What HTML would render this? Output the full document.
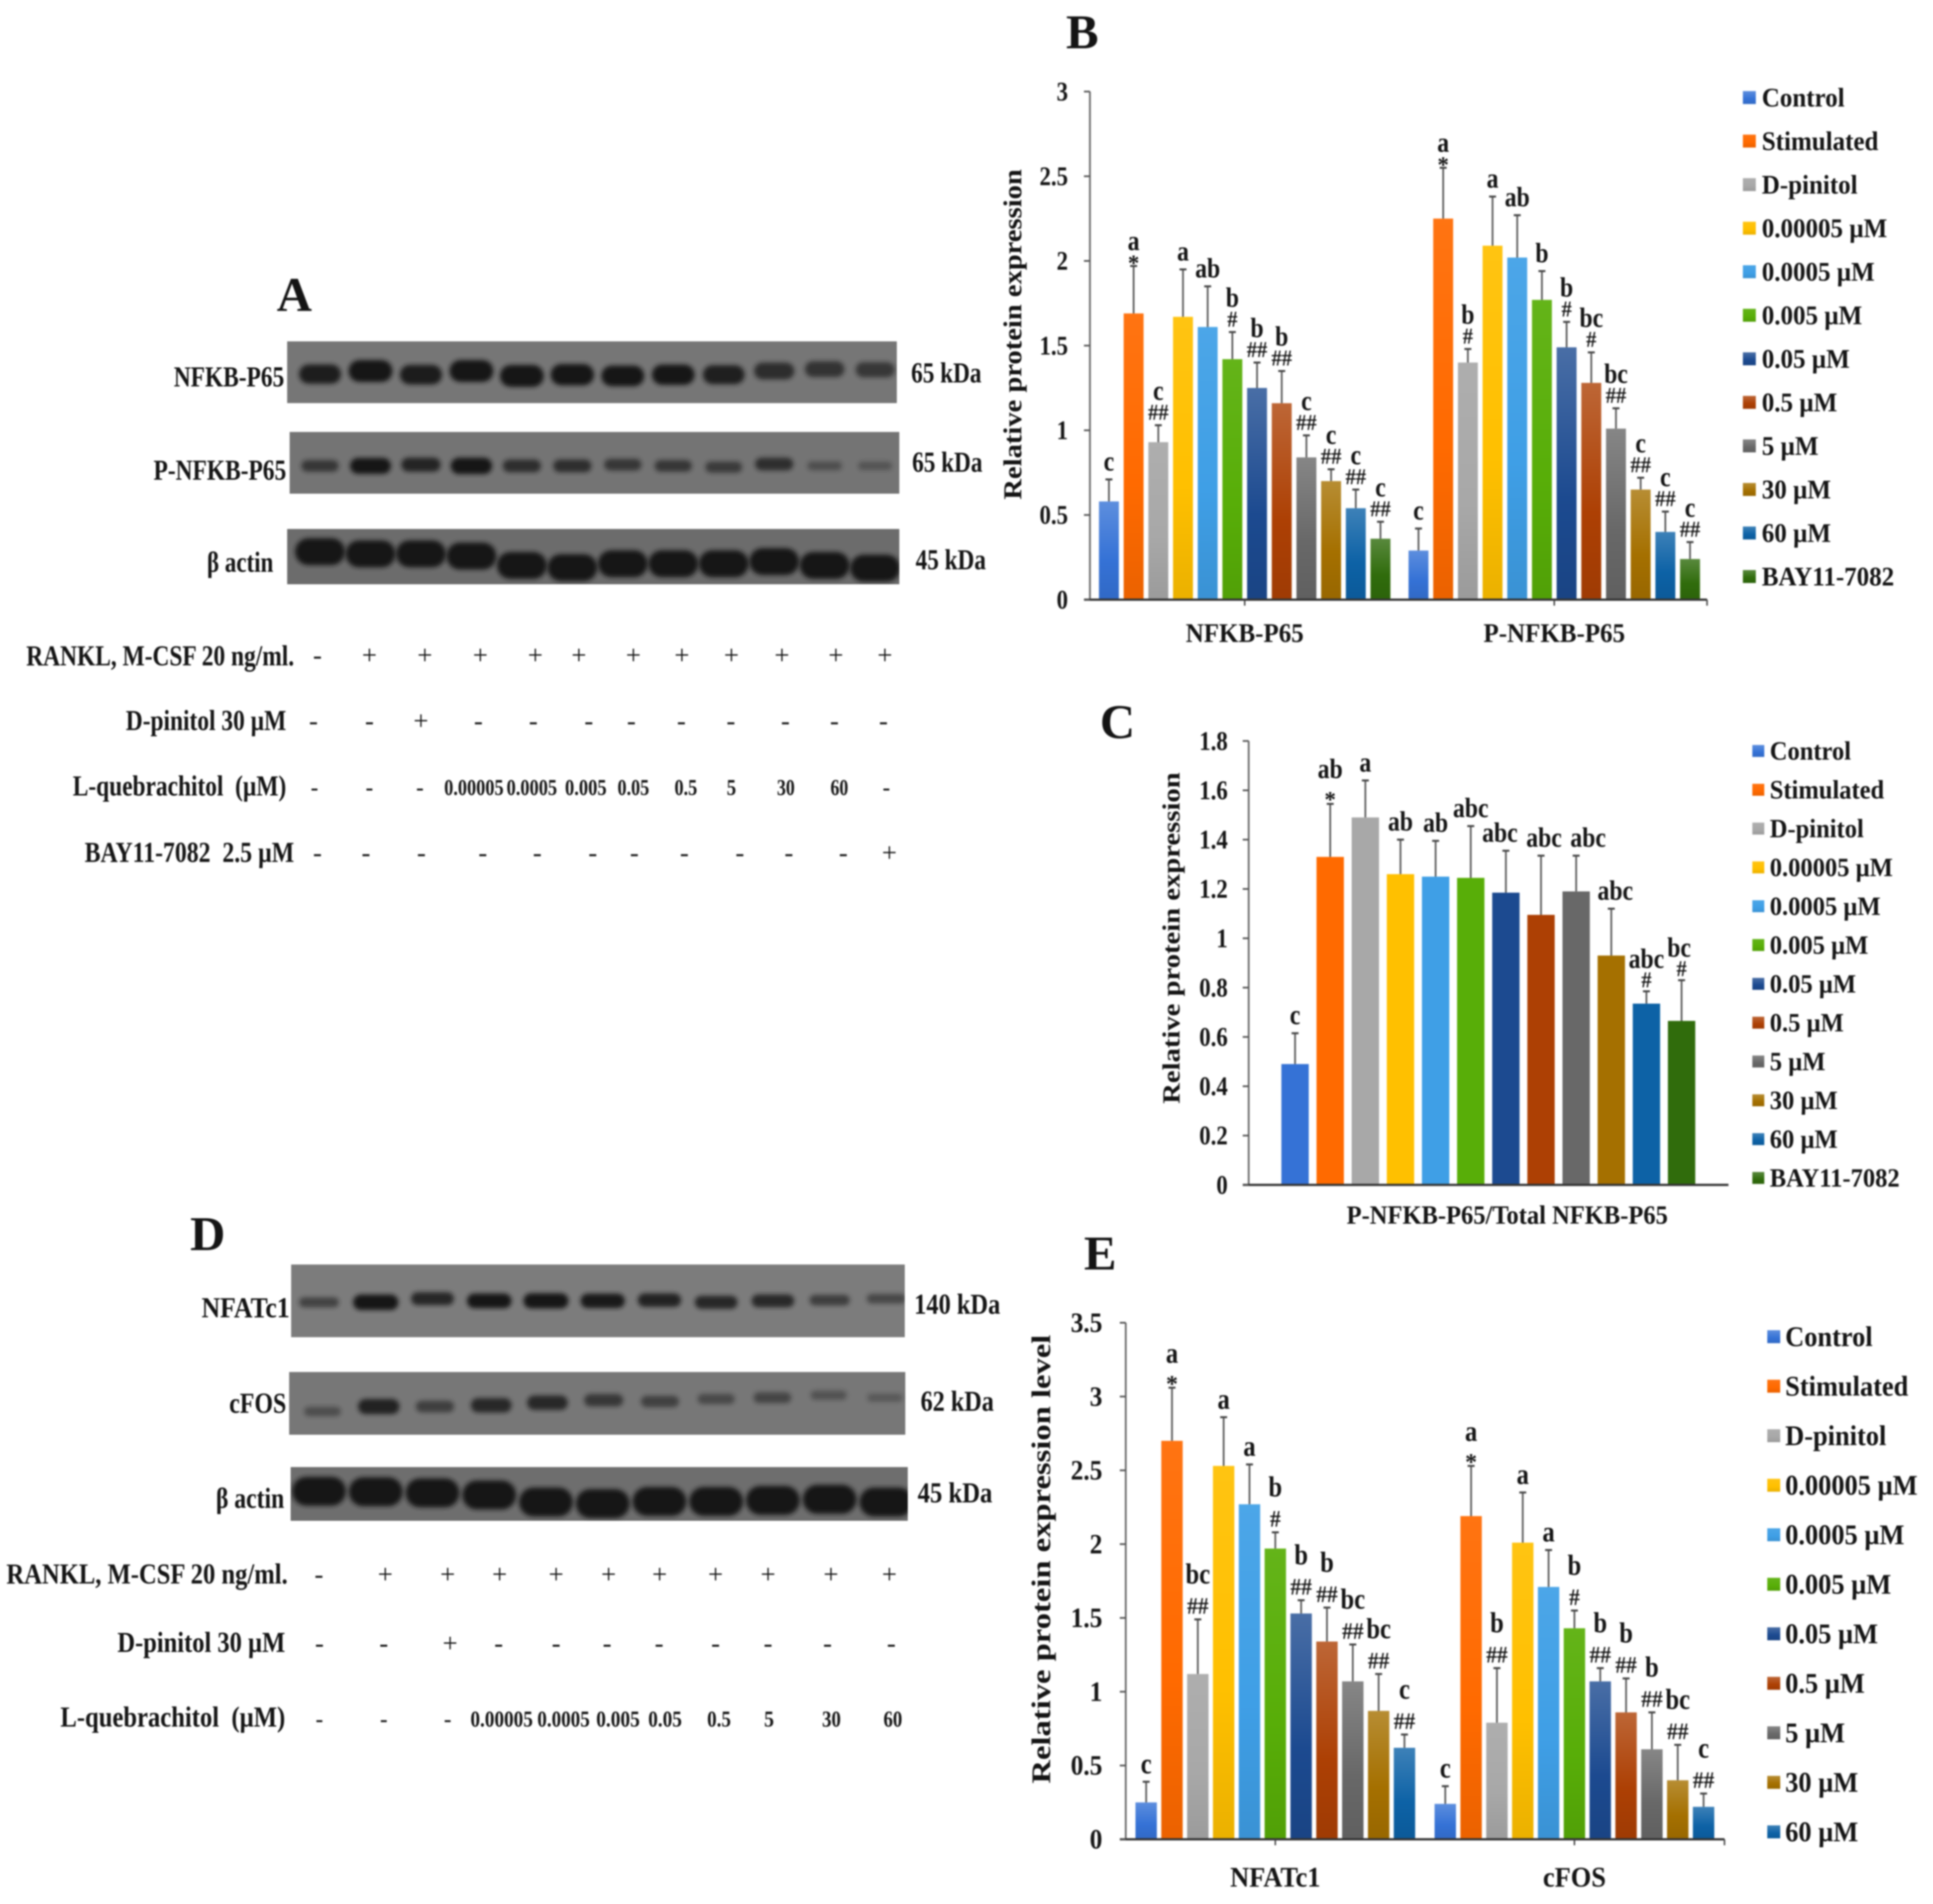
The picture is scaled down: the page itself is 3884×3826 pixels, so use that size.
<!DOCTYPE html>
<html lang="en">
<head>
<meta charset="utf-8">
<title>Western blots and relative protein expression charts</title>
<style>
html,body{margin:0;padding:0;background:#fff;width:3884px;height:3826px;overflow:hidden}
#fig{display:block;filter:blur(1.5px)}
text{font-family:"Liberation Serif","DejaVu Serif",serif;font-weight:700;fill:#141414}
.thin{font-weight:400}
</style>
</head>
<body>
<svg id="fig" xmlns="http://www.w3.org/2000/svg" width="3884" height="3826" viewBox="0 0 3884 3826">
<defs>
<filter id="bandBlur" x="-30%" y="-80%" width="160%" height="260%"><feGaussianBlur stdDeviation="4.5"/></filter>
</defs>
<rect width="3884" height="3826" fill="#fff"/>

<text x="556" y="625" font-size="98">A</text>
<text x="2142" y="97" font-size="98">B</text>
<text x="2210" y="1483" font-size="98">C</text>
<text x="382" y="2512" font-size="98">D</text>
<text x="2178" y="2551" font-size="98">E</text>

<g id="blots"></g>

<g transform="translate(0 2.6) scale(0.995)">
<g font-size="58">
<text x="351" y="778" textLength="223" lengthAdjust="spacingAndGlyphs">NFKB-P65</text>
<text x="310" y="966" textLength="268" lengthAdjust="spacingAndGlyphs">P-NFKB-P65</text>
<text x="418" y="1152" textLength="134" lengthAdjust="spacingAndGlyphs">β actin</text>
<text x="1840" y="770" textLength="142" lengthAdjust="spacingAndGlyphs">65 kDa</text>
<text x="1842" y="950" textLength="142" lengthAdjust="spacingAndGlyphs">65 kDa</text>
<text x="1849" y="1147" textLength="142" lengthAdjust="spacingAndGlyphs">45 kDa</text>
<text x="53" y="1341" textLength="541" lengthAdjust="spacingAndGlyphs">RANKL, M-CSF 20 ng/ml.</text>
<text x="254" y="1472" textLength="324" lengthAdjust="spacingAndGlyphs">D-pinitol 30 µM</text>
<text x="147" y="1604" textLength="431" lengthAdjust="spacingAndGlyphs" xml:space="preserve">L-quebrachitol  (µM)</text>
<text x="171" y="1738" textLength="423" lengthAdjust="spacingAndGlyphs" xml:space="preserve">BAY11-7082  2.5 µM</text>
</g>
<g text-anchor="middle">
<text class="thin" font-size="54" y="1338" x="641 746 858 970 1081 1169 1279 1377 1477 1579 1688 1787">-+++++++++++</text>
<text class="thin" font-size="54" y="1471" x="633 746 850 966 1077 1189 1275 1376 1476 1586 1685 1784">--+---------</text>
<g font-size="46">
<text x="635" y="1603">-</text>
<text x="746" y="1603">-</text>
<text x="848" y="1603">-</text>
<text x="957" y="1603" textLength="120" lengthAdjust="spacingAndGlyphs">0.00005</text>
<text x="1074" y="1603" textLength="102" lengthAdjust="spacingAndGlyphs">0.0005</text>
<text x="1183" y="1603" textLength="84" lengthAdjust="spacingAndGlyphs">0.005</text>
<text x="1279" y="1603" textLength="64" lengthAdjust="spacingAndGlyphs">0.05</text>
<text x="1385" y="1603" textLength="46" lengthAdjust="spacingAndGlyphs">0.5</text>
<text x="1477" y="1603" textLength="19" lengthAdjust="spacingAndGlyphs">5</text>
<text x="1587" y="1603" textLength="36" lengthAdjust="spacingAndGlyphs">30</text>
<text x="1695" y="1603" textLength="36" lengthAdjust="spacingAndGlyphs">60</text>
<text x="1790" y="1603">-</text>
</g>
<text class="thin" font-size="54" y="1737" x="641 739 851 975 1085 1197 1281 1382 1494 1593 1703 1796">-----------+</text>
</g>
</g>

<g transform="translate(0 12.1) scale(0.995)">
<g font-size="58">
<text x="407" y="2648" textLength="178" lengthAdjust="spacingAndGlyphs">NFATc1</text>
<text x="463" y="2841" textLength="115" lengthAdjust="spacingAndGlyphs">cFOS</text>
<text x="436" y="3033" textLength="138" lengthAdjust="spacingAndGlyphs">β actin</text>
<text x="1846" y="2641" textLength="174" lengthAdjust="spacingAndGlyphs">140 kDa</text>
<text x="1859" y="2837" textLength="148" lengthAdjust="spacingAndGlyphs">62 kDa</text>
<text x="1853" y="3022" textLength="151" lengthAdjust="spacingAndGlyphs">45 kDa</text>
<text x="13" y="3186" textLength="568" lengthAdjust="spacingAndGlyphs">RANKL, M-CSF 20 ng/ml.</text>
<text x="237" y="3324" textLength="339" lengthAdjust="spacingAndGlyphs">D-pinitol 30 µM</text>
<text x="122" y="3475" textLength="454" lengthAdjust="spacingAndGlyphs" xml:space="preserve">L-quebrachitol  (µM)</text>
</g>
<g text-anchor="middle">
<text class="thin" font-size="54" y="3185" x="644 778 904 1009 1123 1229 1332 1445 1551 1678 1796">-++++++++++</text>
<text class="thin" font-size="54" y="3324" x="645 775 909 1007 1123 1226 1331 1445 1551 1671 1800">--+--------</text>
<g font-size="46">
<text x="645" y="3475">-</text>
<text x="775" y="3475">-</text>
<text x="904" y="3475">-</text>
<text x="1013" y="3475" textLength="126" lengthAdjust="spacingAndGlyphs">0.00005</text>
<text x="1138" y="3475" textLength="106" lengthAdjust="spacingAndGlyphs">0.0005</text>
<text x="1248" y="3475" textLength="88" lengthAdjust="spacingAndGlyphs">0.005</text>
<text x="1343" y="3475" textLength="68" lengthAdjust="spacingAndGlyphs">0.05</text>
<text x="1452" y="3475" textLength="48" lengthAdjust="spacingAndGlyphs">0.5</text>
<text x="1553" y="3475" textLength="20" lengthAdjust="spacingAndGlyphs">5</text>
<text x="1679" y="3475" textLength="38" lengthAdjust="spacingAndGlyphs">30</text>
<text x="1803" y="3475" textLength="38" lengthAdjust="spacingAndGlyphs">60</text>
</g>
</g>
</g>

<g id="charts"></g>
</svg>

<script>
// ---- shared series ----
const seriesNames = ['Control','Stimulated','D-pinitol','0.00005 µM','0.0005 µM','0.005 µM','0.05 µM','0.5 µM','5 µM','30 µM','60 µM','BAY11-7082'];
const seriesColors = ['#3572d6','#ff6a00','#a8a8a8','#ffc000','#3f9fe6','#58ae08','#1c4a90','#ad4004','#686868','#a57000','#0d62a6','#306c0c'];

// ---- chart B ----
const bCategories = ['NFKB-P65','P-NFKB-P65'];
const bTicks = [0,0.5,1,1.5,2,2.5,3];
const bValuesNfkb = [0.58,1.69,0.93,1.67,1.61,1.42,1.25,1.16,0.84,0.70,0.54,0.36];
const bErrorsNfkb = [0.13,0.28,0.10,0.28,0.24,0.16,0.15,0.19,0.13,0.07,0.11,0.10];
const bLettersNfkb = ['c','a','c','a','ab','b','b','b','c','c','c','c'];
const bMarksNfkb = ['','*','##','','','#','##','##','##','##','##','##'];
const bValuesPhospho = [0.29,2.25,1.40,2.09,2.02,1.77,1.49,1.28,1.01,0.65,0.40,0.24];
const bErrorsPhospho = [0.13,0.30,0.08,0.29,0.25,0.17,0.15,0.18,0.12,0.07,0.12,0.10];
const bLettersPhospho = ['c','a','b','a','ab','b','b','bc','bc','c','c','c'];
const bMarksPhospho = ['','*','#','','','','#','#','##','##','##','##'];

// ---- chart C ----
const cCategories = ['P-NFKB-P65/Total NFKB-P65'];
const cTicks = [0,0.2,0.4,0.6,0.8,1,1.2,1.4,1.6,1.8];
const cValues = [0.49,1.33,1.49,1.26,1.25,1.245,1.185,1.095,1.19,0.93,0.735,0.665];
const cErrors = [0.125,0.215,0.15,0.14,0.145,0.21,0.17,0.24,0.145,0.19,0.05,0.165];
const cLetters = ['c','ab','a','ab','ab','abc','abc','abc','abc','abc','abc','bc'];
const cMarks = ['','*','','','','','','','','','#','#'];

// ---- chart E ----
const eCategories = ['NFATc1','cFOS'];
const eTicks = [0,0.5,1,1.5,2,2.5,3,3.5];
const eValuesNfatc1 = [0.25,2.70,1.12,2.53,2.27,1.97,1.53,1.34,1.07,0.87,0.62];
const eErrorsNfatc1 = [0.14,0.36,0.37,0.33,0.27,0.11,0.09,0.23,0.25,0.25,0.09];
const eLettersNfatc1 = ['c','a','bc','a','a','b','b','b','bc','bc','c'];
const eMarksNfatc1 = ['','*','##','','','#','##','##','##','##','##'];
const eValuesCfos = [0.24,2.19,0.79,2.01,1.71,1.43,1.07,0.86,0.61,0.40,0.22];
const eErrorsCfos = [0.12,0.34,0.37,0.34,0.25,0.12,0.09,0.23,0.25,0.24,0.09];
const eLettersCfos = ['c','a','b','a','a','b','b','b','b','bc','c'];
const eMarksCfos = ['','*','##','','','#','##','##','##','##','##'];

// ---- blot band densities (0-1) and relative migration (Rf) ----
const aNfkbDensity = [0.8,1,0.82,1,1,0.95,0.9,0.88,0.78,0.62,0.55,0.5];
const aNfkbRf = [0.53,0.48,0.54,0.48,0.56,0.54,0.56,0.54,0.54,0.48,0.45,0.46];
const aPhosphoDensity = [0.5,0.9,0.72,0.95,0.6,0.6,0.5,0.5,0.45,0.6,0.22,0.16];
const aPhosphoRf = [0.55,0.55,0.53,0.55,0.55,0.55,0.53,0.55,0.57,0.52,0.55,0.55];
const aActinDensity = [1,1,1,1,1,1,1,1,1,1,1,1];
const aActinRf = [0.41,0.45,0.45,0.49,0.66,0.70,0.63,0.63,0.63,0.59,0.66,0.71];
const dNfatc1Density = [0.4,0.95,0.7,0.88,0.92,0.85,0.75,0.7,0.68,0.45,0.35];
const dNfatc1Rf = [0.52,0.52,0.47,0.50,0.50,0.50,0.49,0.52,0.50,0.49,0.47];
const dCfosDensity = [0.25,0.75,0.42,0.68,0.68,0.5,0.4,0.3,0.35,0.2,0.12];
const dCfosRf = [0.63,0.55,0.55,0.53,0.49,0.45,0.47,0.43,0.41,0.37,0.41];
const dActinDensity = [1,1,1,1,1,1,1,1,1,1,1];
const dActinRf = [0.45,0.46,0.48,0.52,0.65,0.68,0.64,0.64,0.62,0.60,0.65];

const SVG_NS = document.getElementById('fig').namespaceURI;
const chartsRoot = document.getElementById('charts');
const blotsRoot = document.getElementById('blots');
const defsRoot = document.querySelector('#fig defs');

function make(tag, attrs, parent, content) {
  const node = document.createElementNS(SVG_NS, tag);
  Object.keys(attrs).forEach(function (k) { node.setAttribute(k, attrs[k]); });
  if (content !== undefined) node.textContent = content;
  parent.appendChild(node);
  return node;
}
function mix(hex, target, t) {
  const n = parseInt(hex.slice(1), 16);
  const c = [n >> 16 & 255, n >> 8 & 255, n & 255].map(function (v) { return Math.round(v + (target - v) * t); });
  return 'rgb(' + c.join(',') + ')';
}
function lum(hex) {
  const n = parseInt(hex.slice(1), 16);
  return 0.3 * (n >> 16 & 255) + 0.59 * (n >> 8 & 255) + 0.11 * (n & 255);
}
seriesColors.forEach(function (color, i) {
  const grad = make('linearGradient', {id: 'barGrad' + i, x1: 0, y1: 0, x2: 0, y2: 1}, defsRoot);
  make('stop', {offset: '0', 'stop-color': mix(color, 255, lum(color) < 125 ? 0.2 : 0.07)}, grad);
  make('stop', {offset: '0.6', 'stop-color': color}, grad);
  make('stop', {offset: '1', 'stop-color': mix(color, 0, 0.08)}, grad);
});

function scaledText(parent, x, y, sx, size, anchor, content) {
  return make('text', {transform: 'translate(' + x + ' ' + y + ') scale(' + sx + ' 1)', 'text-anchor': anchor, 'font-size': size}, parent, content);
}

function drawChart(cfg) {
  const root = make('g', {}, chartsRoot);
  
  
  const yMax = cfg.ticks[cfg.ticks.length - 1];
  const yScale = function (v) { return cfg.y0 - v / yMax * (cfg.y0 - cfg.yTop); };
  const xScale = function (g, i, n) {
    return cfg.start + g * cfg.groupW + (cfg.groupW - n * cfg.step) / 2 + (i + 0.5) * cfg.step;
  };

  cfg.groups.forEach(function (group, g) {
    const n = group.values.length;
    group.values.forEach(function (value, i) {
      const cx = xScale(g, i, n);
      const top = yScale(value);
      const errTop = yScale(value + group.errors[i]);
      const whisker = make('line', {x1: cx, x2: cx, y1: top, y2: errTop, stroke: '#5a5a5a', 'stroke-width': 3.5}, root);
      
      
      const cap = make('line', {x1: cx - 7, x2: cx + 7, y1: errTop, y2: errTop, stroke: '#444', 'stroke-width': 4}, root);
      
      
      const bar = make('rect', {x: cx - cfg.barW / 2, y: top, width: cfg.barW, height: cfg.y0 - top,
        fill: cfg.flat ? seriesColors[i] : 'url(#barGrad' + i + ')'}, root);
      
      

      const mark = group.marks[i];
      let letterLift = cfg.liftPlain;
      if (mark === '*') {
        letterLift = cfg.liftStar;
        const star = scaledText(root, cx, errTop + cfg.starDrop, 1, cfg.markSize + 4, 'middle', mark);
        
        
      } else if (mark) {
        letterLift = cfg.liftHash;
        const hash = scaledText(root, cx, errTop - cfg.hashLift, 0.9, cfg.markSize + 4, 'middle', mark);
        
        
      }
      const nudge = cfg.letterOffset ? cfg.letterOffset(i) : 0;
      const letter = scaledText(root, cx + nudge, errTop - letterLift, 0.85, cfg.letterSize + 4, 'middle', group.letters[i]);
      
      
    });
  });

  const yAxis = make('line', {x1: cfg.start, x2: cfg.start, y1: cfg.yTop, y2: cfg.y0, stroke: '#666', 'stroke-width': 3.5}, root);
  
  
  const xAxis = make('line', {x1: cfg.start - 12, x2: cfg.axisEnd, y1: cfg.y0, y2: cfg.y0, stroke: '#333', 'stroke-width': 4.5}, root);
  
  

  cfg.ticks.forEach(function (tick) {
    const y = yScale(tick);
    const mark = make('line', {x1: cfg.start - 12, x2: cfg.start, y1: y, y2: y, stroke: '#555', 'stroke-width': 3.5}, root);
    
    
    const label = scaledText(root, cfg.tickRight, y + cfg.tickSize * 0.33, cfg.tickScale, cfg.tickSize, 'end', String(tick));
    
    
  });

  cfg.categories.forEach(function (category, g) {
    const cx = cfg.start + (g + 0.5) * cfg.groupW;
    if (cfg.xTicks) {
      const tick = make('line', {x1: cx, x2: cx, y1: cfg.y0, y2: cfg.y0 + 12, stroke: '#444', 'stroke-width': 3}, root);
      
      
    }
    const label = scaledText(root, cx + (cfg.catShift || 0), cfg.catY, 0.93, cfg.catSize + 4, 'middle', category);
    
    
  });
  if (cfg.xTicks) {
    const endTick = make('line', {x1: cfg.axisEnd, x2: cfg.axisEnd, y1: cfg.y0, y2: cfg.y0 + 12, stroke: '#444', 'stroke-width': 3}, root);
    
    
  }

  const title = make('text', {transform: 'translate(' + cfg.titleX + ' ' + cfg.titleY + ') rotate(-90)', 'text-anchor': 'middle',
    'font-size': cfg.titleSize, textLength: cfg.titleLen, lengthAdjust: 'spacingAndGlyphs'}, root, cfg.title);
  
  

  const names = seriesNames.slice(0, cfg.groups[0].values.length);
  names.forEach(function (name, i) {
    const y = cfg.legendTop + i * cfg.legendStep;
    const swatch = make('rect', {x: cfg.swatchX, y: y - cfg.swatch / 2, width: cfg.swatch, height: cfg.swatch, fill: 'url(#barGrad' + i + ')'}, root);
    
    
    const label = scaledText(root, cfg.legendX, y + cfg.legendSize * 0.33, 0.93, cfg.legendSize, 'start', name);
    
    
  });
}

drawChart({
  name: 'chart-b', title: 'Relative protein expression', titleX: 2052, titleY: 672, titleLen: 664, titleSize: 52,
  ticks: bTicks, categories: bCategories, y0: 1205, yTop: 184, start: 2190, groupW: 622, step: 49.6, barW: 40, axisEnd: 3430, xTicks: true,
  tickRight: 2146, tickSize: 54, tickScale: 0.85, catY: 1290, catSize: 50,
  markSize: 42, letterSize: 52, liftPlain: 18, liftStar: 32, liftHash: 51, hashLift: 11, starDrop: 9,
  swatchX: 3502, swatch: 26, legendX: 3540, legendSize: 54, legendTop: 196, legendStep: 87.5,
  groups: [
    {key: 'nfkb', values: bValuesNfkb, errors: bErrorsNfkb, letters: bLettersNfkb, marks: bMarksNfkb},
    {key: 'p-nfkb', values: bValuesPhospho, errors: bErrorsPhospho, letters: bLettersPhospho, marks: bMarksPhospho}
  ]
});
drawChart({
  name: 'chart-c', title: 'Relative protein expression', titleX: 2370, titleY: 1885, titleLen: 666, titleSize: 50, flat: true,
  ticks: cTicks, categories: cCategories, y0: 2381, yTop: 1489, start: 2509, groupW: 963, step: 70.6, barW: 55, axisEnd: 3473, xTicks: false, catShift: 38,
  tickRight: 2467, tickSize: 54, tickScale: 0.85, catY: 2459, catSize: 49,
  markSize: 42, letterSize: 52, liftPlain: 18, liftStar: 52, liftHash: 47, hashLift: 8, starDrop: 6,
  letterOffset: function (i) { return i === 6 ? -12 : i === 7 ? 6 : i === 8 ? 24 : i === 9 ? 8 : i === 11 ? -5 : 0; },
  swatchX: 3521, swatch: 24, legendX: 3556, legendSize: 53, legendTop: 1509, legendStep: 78,
  groups: [
    {key: 'ratio', values: cValues, errors: cErrors, letters: cLetters, marks: cMarks}
  ]
});
drawChart({
  name: 'chart-e', title: 'Relative protein expression level', titleX: 2110, titleY: 3133, titleLen: 902, titleSize: 54,
  ticks: eTicks, categories: eCategories, y0: 3696, yTop: 2658, start: 2262, groupW: 601, step: 51.9, barW: 43, axisEnd: 3465, xTicks: true,
  tickRight: 2215, tickSize: 56, tickScale: 0.91, catY: 3791, catSize: 53,
  markSize: 44, letterSize: 54, liftPlain: 17, liftStar: 50, liftHash: 72, hashLift: 11, starDrop: 8,
  swatchX: 3551, swatch: 26, legendX: 3587, legendSize: 57, legendTop: 2686, legendStep: 99.5,
  groups: [
    {key: 'nfatc1', values: eValuesNfatc1, errors: eErrorsNfatc1, letters: eLettersNfatc1, marks: eMarksNfatc1},
    {key: 'cfos', values: eValuesCfos, errors: eErrorsCfos, letters: eLettersCfos, marks: eMarksCfos}
  ]
});

function drawBlot(name, x, y, w, h, shade, firstLane, laneStep, density, rf, halfW, thick) {
  const panel = make('svg', {x: x, y: y, width: w, height: h}, blotsRoot);
  
  
  make('rect', {width: w, height: h, fill: shade}, panel);
  density.forEach(function (d, i) {
    const bw = 2 * halfW * (0.78 + 0.22 * d);
    const bh = 2 * thick * (0.38 + 0.62 * d);
    const band = make('rect', {
      x: firstLane + i * laneStep - x - bw / 2, y: rf[i] * h - bh / 2,
      width: bw, height: bh, rx: Math.min(bw, bh) * 0.5, ry: bh * 0.5,
      fill: '#181818', opacity: Math.min(1, 0.2 + 0.9 * d), filter: 'url(#bandBlur)'
    }, panel);
    
    
  });
}
drawBlot('nfkb-blot', 577, 686, 1225, 124, '#767676', 643, 101.4, aNfkbDensity, aNfkbRf, 44, 22);
drawBlot('p-nfkb-blot', 582, 868, 1225, 124, '#747474', 643, 101.4, aPhosphoDensity, aPhosphoRf, 42, 17);
drawBlot('actin-blot', 577, 1063, 1230, 111, '#6c6c6c', 643, 101.4, aActinDensity, aActinRf, 50, 27);
drawBlot('nfatc1-blot', 585, 2541, 1233, 146, '#7c7c7c', 641, 114, dNfatc1Density, dNfatc1Rf, 46, 16);
drawBlot('cfos-blot', 581, 2757, 1238, 126, '#777777', 648, 113, dCfosDensity, dCfosRf, 44, 18);
drawBlot('actin-blot-d', 584, 2948, 1240, 108, '#6e6e6e', 641, 114, dActinDensity, dActinRf, 54, 29);
</script>
</body>
</html>
